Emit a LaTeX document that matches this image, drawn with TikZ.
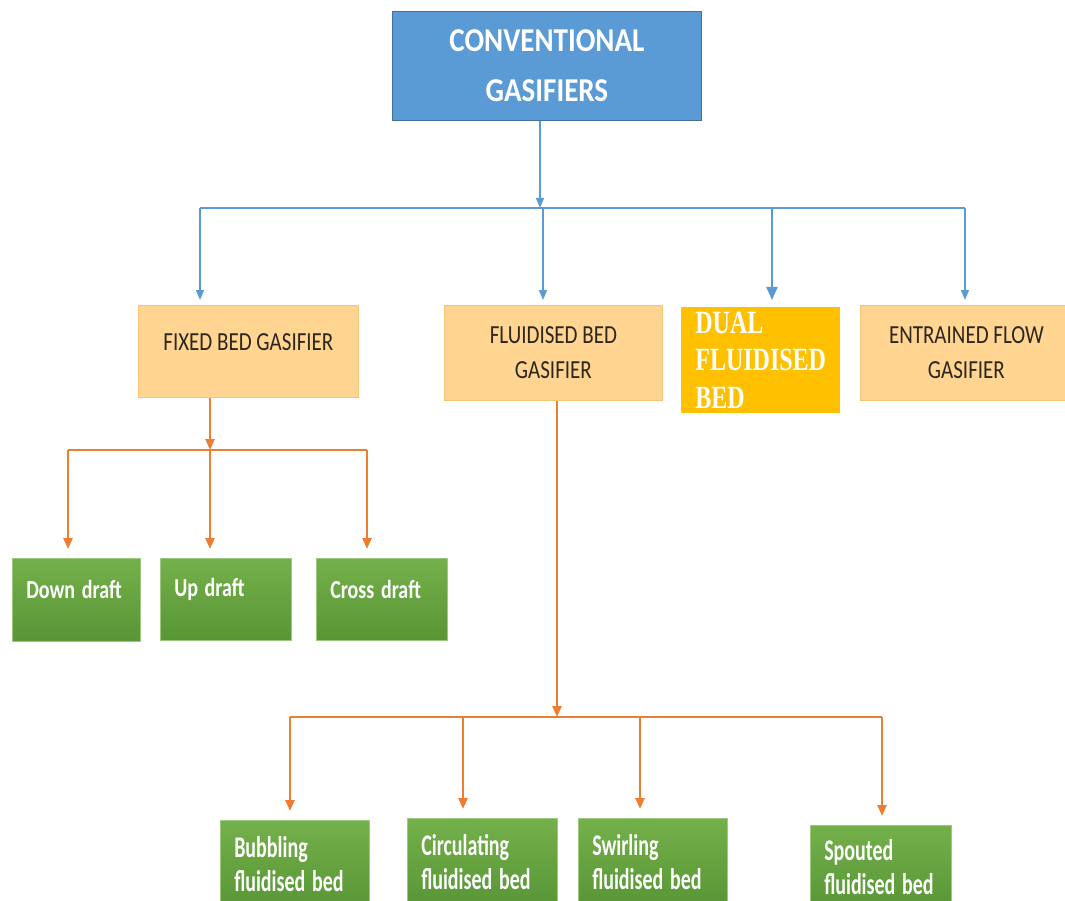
\documentclass[tikz,border=0pt]{standalone}
\usepackage{fontspec}
\setmainfont{Carlito}
\newfontfamily\dualfont{Liberation Serif}
\usetikzlibrary{arrows.meta}
\definecolor{blue1}{RGB}{91,155,213}
\definecolor{blue2}{RGB}{65,113,156}
\definecolor{orange1}{RGB}{237,125,49}
\definecolor{peach1}{RGB}{255,213,145}
\definecolor{peach2}{RGB}{248,196,118}
\definecolor{gold1}{RGB}{255,192,0}
\definecolor{green1}{RGB}{116,176,74}
\definecolor{green2}{RGB}{88,150,54}
\definecolor{text1}{RGB}{45,38,30}
\newcommand\vst[2][1.3]{\scalebox{1}[#1]{#2}}

\begin{document}
\begin{tikzpicture}[x=1pt, y=-1pt,
  topbox/.style={draw=blue2, fill=blue1, line width=0.8pt, text=white, align=center,
    font=\fontsize{29}{50}\selectfont\bfseries, anchor=north west, inner sep=0pt},
  peachbox/.style={draw=peach2, fill=peach1, line width=0.8pt, text=text1, align=center,
    font=\fontsize{21}{35}\selectfont, anchor=north west, inner sep=0pt},
  dualbox/.style={fill=gold1, text=white, align=left, inner xsep=13pt, inner ysep=0pt,
    font=\dualfont\fontsize{24}{37.5}\selectfont\bfseries, anchor=north west},
  greenbox/.style={top color=green1, bottom color=green2, draw=green1!70!white, line width=0.5pt,
    text=white, align=left, inner xsep=14pt, inner ysep=0pt,
    font=\fontsize{20}{34}\selectfont\bfseries, anchor=north west},
  bline/.style={draw=blue1, line width=1.6pt},
  barrow/.style={bline, -{Triangle[length=10pt,width=8pt]}},
  oline/.style={draw=orange1, line width=2.6pt},
  oarrow/.style={oline, -{Triangle[length=11pt,width=9pt]}}]
\useasboundingbox (0,0) rectangle (1065,901);

% top level
\node[topbox, minimum width=309pt, minimum height=109pt] (conv) at (392,11)
  {\vst[1.15]{CONVENTIONAL}\\\vst[1.15]{GASIFIERS}};

% second level
\node[peachbox, minimum width=220pt, text height=45pt, text depth=47pt] (fixed) at (138,305)
  {\vst[1.24]{FIXED BED GASIFIER}};
\node[peachbox, minimum width=218pt, minimum height=95pt] (fluid) at (444,305)
  {\vst[1.24]{FLUIDISED BED}\\\vst[1.24]{GASIFIER}};
\node[dualbox, minimum width=159pt, minimum height=106pt] (dual) at (681,307)
  {\vst[1.35]{DUAL}\\\vst[1.35]{FLUIDISED}\\\vst[1.35]{BED}};
\node[peachbox, minimum width=212pt, minimum height=95pt] (entr) at (860,305)
  {\vst[1.24]{ENTRAINED FLOW}\\\vst[1.24]{GASIFIER}};

% fixed bed types
\node[greenbox, text width=100pt, text height=40pt, text depth=43pt] (down) at (12,558) {\vst{Down draft}};
\node[greenbox, text width=103pt, text height=38pt, text depth=44pt] (up) at (160,558) {\vst{Up draft}};
\node[greenbox, text width=103pt, text height=40pt, text depth=42pt] (cross) at (316,558) {\vst{Cross draft}};

% fluidised bed types
\node[greenbox, text width=121pt, minimum height=88pt] (bub) at (220,820)
  {\vst[1.5]{Bubbling}\\\vst[1.5]{fluidised bed}};
\node[greenbox, text width=122pt, minimum height=88pt] (circ) at (407,818)
  {\vst[1.5]{Circulating}\\\vst[1.5]{fluidised bed}};
\node[greenbox, text width=121pt, minimum height=88pt] (swirl) at (578,818)
  {\vst[1.5]{Swirling}\\\vst[1.5]{fluidised bed}};
\node[greenbox, text width=113pt, minimum height=84pt] (spout) at (810,825)
  {\vst[1.5]{Spouted}\\\vst[1.5]{fluidised bed}};

% blue branches
\coordinate (bj) at (540,208);
\coordinate (b1) at (200,208);
\coordinate (b2) at (543,208);
\coordinate (b3) at (772,208);
\coordinate (b4) at (965,208);
\draw[barrow] (bj |- conv.south) -- (bj);
\draw[bline] (b1) -- (b4);
\foreach \from/\to in {b1/fixed, b2/fluid, b4/entr}
  \draw[barrow, shorten >=5pt] (\from) -- (\from |- \to.north);
\draw[bline, line width=2.2pt, -{Triangle[length=13pt,width=11pt]}, shorten >=7pt] (b3) -- (b3 |- dual.north);

% orange branches, fixed bed
\coordinate (fj) at (210,450);
\coordinate (f1) at (68,450);
\coordinate (f3) at (367,450);
\draw[oarrow] (fj |- fixed.south) -- (fj);
\draw[oline] (f1) -- (f3);
\foreach \from/\to in {f1/down, fj/up, f3/cross}
  \draw[oarrow, shorten >=9pt] (\from) -- (\from |- \to.north);

% orange branches, fluidised bed
\coordinate (gj) at (557,717);
\coordinate (g1) at (290,717);
\coordinate (g2) at (463,717);
\coordinate (g3) at (640,717);
\coordinate (g4) at (882,717);
\draw[oarrow] (gj |- fluid.south) -- (gj);
\draw[oline] (g1) -- (g4);
\foreach \from/\to in {g1/bub, g2/circ, g3/swirl, g4/spout}
  \draw[oarrow, shorten >=9pt] (\from) -- (\from |- \to.north);
\end{tikzpicture}
\end{document}
